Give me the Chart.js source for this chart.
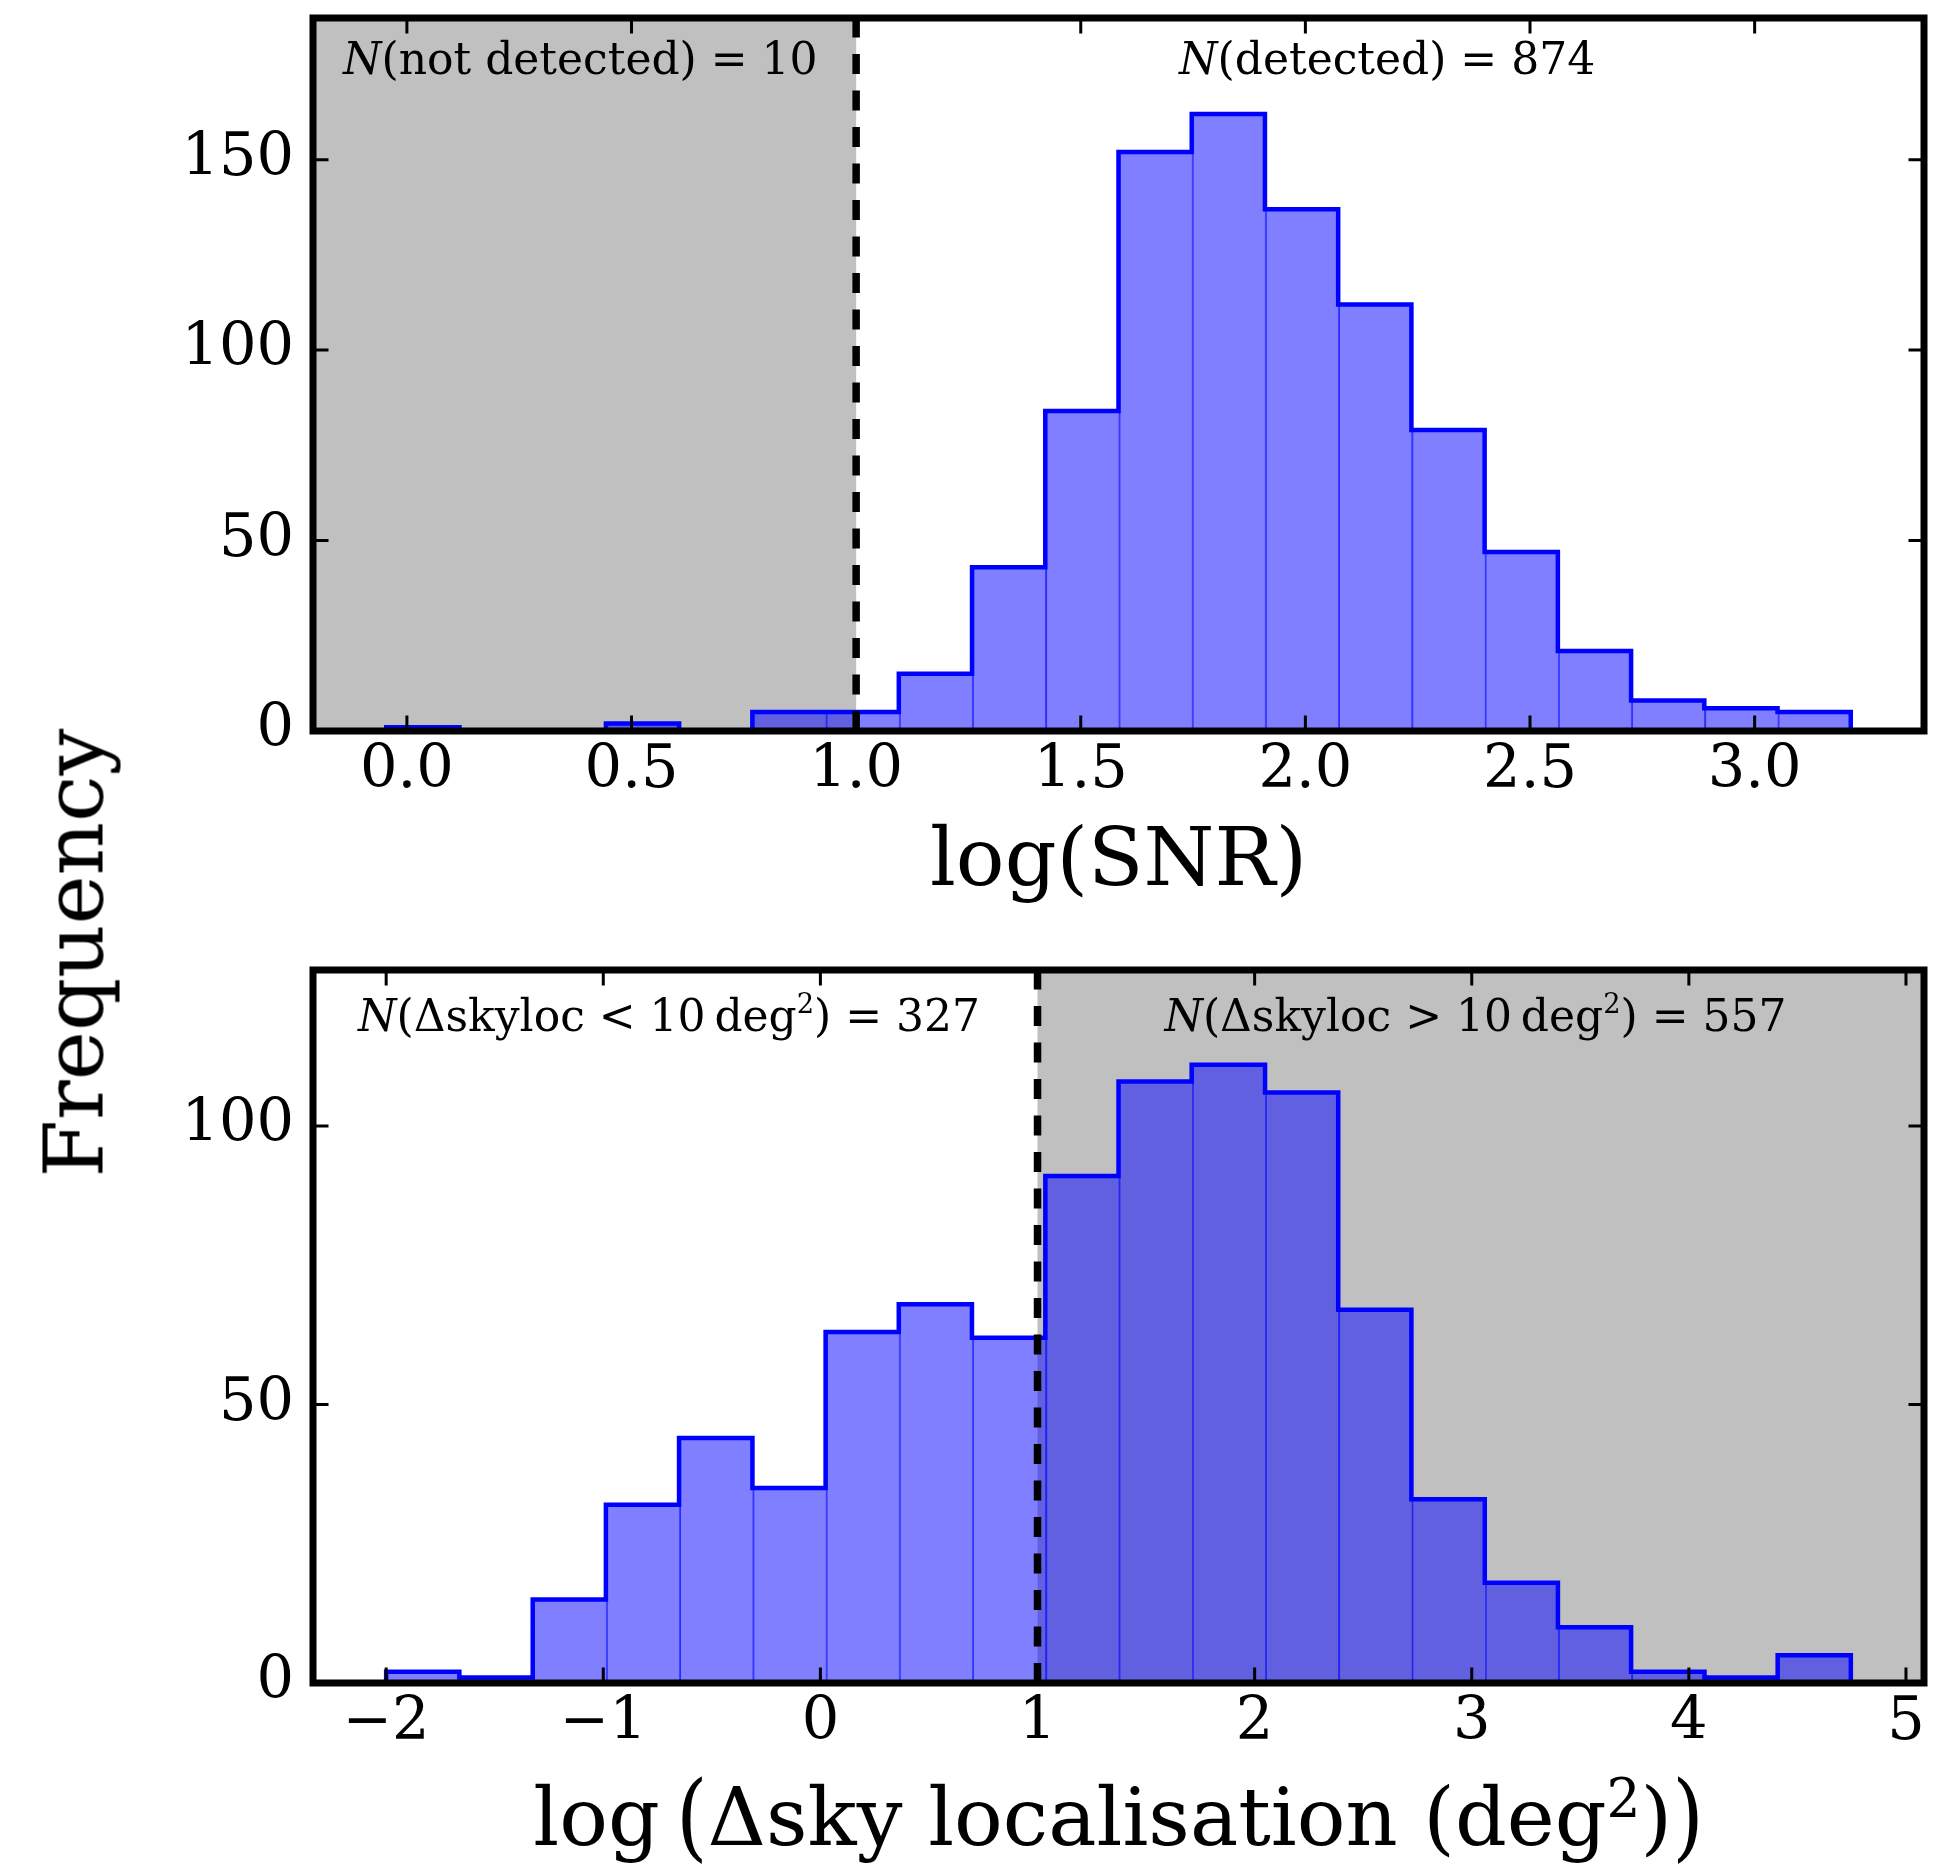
<!DOCTYPE html>
<html>
<head>
<meta charset="utf-8">
<script src="https://cdn.jsdelivr.net/npm/chart.js@4.4.1/dist/chart.umd.min.js"></script>
<style>
    body { margin: 0; background: #fff; }
    #wrap { position: relative; width: 1942px; height: 1864px; }
    canvas { position: absolute; left: 0; }
    #snrChart { top: 0; }
    #skyChart { top: 930px; }
    #freqLabel {
        position: absolute; left: 74px; top: 953px;
        font-family: 'DejaVu Serif'; font-size: 83px; line-height: 83px;
        white-space: nowrap; color: #000;
        transform: translate(-50%, -50%) rotate(-90deg);
    }
</style>
</head>
<body>
<div id="wrap">
    <canvas id="snrChart" width="1942" height="930"></canvas>
    <canvas id="skyChart" width="1942" height="934"></canvas>
    <div id="freqLabel">Frequency</div>
</div>
<script>
// top panel: log(SNR) histogram
const snrEdges = [-0.046, 0.117, 0.280, 0.443, 0.606, 0.769, 0.932, 1.095, 1.258, 1.421, 1.584,
    1.747, 1.910, 2.073, 2.236, 2.399, 2.562, 2.725, 2.888, 3.051, 3.214];
const snrCounts = [1, 0, 0, 2, 0, 5, 5, 15, 43, 84, 152, 162, 137, 112, 79, 47, 21, 8, 6, 5];
const snrXTicks = [0, 0.5, 1, 1.5, 2, 2.5, 3];
const snrYTicks = [0, 50, 100, 150];

// bottom panel: log(sky localisation) histogram
const skyEdges = [-2.000, -1.663, -1.325, -0.988, -0.651, -0.313, 0.024, 0.361, 0.698, 1.036, 1.373,
    1.710, 2.048, 2.385, 2.722, 3.060, 3.397, 3.734, 4.072, 4.409, 4.746];
const skyCounts = [2, 1, 15, 32, 44, 35, 63, 68, 62, 91, 108, 111, 106, 67, 33, 18, 10, 2, 1, 5];
const skyXTicks = [-2, -1, 0, 1, 2, 3, 4, 5];
const skyYTicks = [0, 50, 100];

const FONT = 'DejaVu Serif';
Chart.defaults.font.family = FONT;
Chart.defaults.color = '#000';

function drawRich(ctx, parts, cx, baseline, size) {
    let total = 0;
    const items = parts.map(p => {
        const font = `${p.italic ? 'italic ' : ''}${size * (p.scale || 1)}px "${FONT}"`;
        ctx.font = font;
        const w = ctx.measureText(p.t).width;
        total += w;
        return { p, font, w };
    });
    let x = cx - total / 2;
    ctx.textAlign = 'left';
    ctx.textBaseline = 'alphabetic';
    ctx.fillStyle = '#000';
    items.forEach(it => {
        const by = baseline - (it.p.rise || 0) * size;
        ctx.font = it.font;
        if (it.p.stretch) {
            // taller delimiters, same width
            ctx.save();
            ctx.translate(x, by);
            ctx.scale(1, it.p.stretch);
            ctx.fillText(it.p.t, 0, 0);
            ctx.restore();
        } else {
            ctx.fillText(it.p.t, x, by);
        }
        x += it.w;
    });
}

function panelPlugin(cfg) {
    return {
        id: 'panel',
        beforeDatasetsDraw(chart) {
            const { ctx, chartArea: a, scales: { x } } = chart;
            const cut = x.getPixelForValue(cfg.cut);
            ctx.save();
            ctx.fillStyle = '#c0c0c0';
            if (cfg.shade === 'left') ctx.fillRect(a.left, a.top, cut - a.left, a.bottom - a.top);
            else ctx.fillRect(cut, a.top, a.right - cut, a.bottom - a.top);
            ctx.restore();
        },
        afterDatasetsDraw(chart) {
            const { ctx, chartArea: a, scales: { x, y } } = chart;
            ctx.save();

            // threshold line
            const cut = x.getPixelForValue(cfg.cut);
            ctx.strokeStyle = '#000';
            ctx.lineWidth = 7.5;
            ctx.setLineDash([20, 16.5]);
            ctx.beginPath();
            ctx.moveTo(cut, a.bottom);
            ctx.lineTo(cut, a.top);
            ctx.stroke();
            ctx.setLineDash([]);

            // inward ticks on all sides
            const tl = 15.5;
            ctx.lineWidth = 3;
            ctx.beginPath();
            x.ticks.forEach(t => {
                const px = x.getPixelForValue(t.value);
                ctx.moveTo(px, a.bottom); ctx.lineTo(px, a.bottom - tl);
                ctx.moveTo(px, a.top); ctx.lineTo(px, a.top + tl);
            });
            y.ticks.forEach(t => {
                const py = y.getPixelForValue(t.value);
                ctx.moveTo(a.left, py); ctx.lineTo(a.left + tl, py);
                ctx.moveTo(a.right, py); ctx.lineTo(a.right - tl, py);
            });
            ctx.stroke();

            // frame
            ctx.lineWidth = 7;
            ctx.lineJoin = 'miter';
            ctx.strokeRect(a.left, a.top, a.right - a.left, a.bottom - a.top);

            cfg.notes.forEach(n => {
                drawRich(ctx, n.parts, x.getPixelForValue(n.x), y.getPixelForValue(n.y), 44);
            });

            drawRich(ctx, cfg.title, (a.left + a.right) / 2, a.bottom + cfg.titleOffset, 81);
            ctx.restore();
        }
    };
}

function histChart(canvasId, cfg) {
    const bins = cfg.counts.map((c, i) => ({ x: (cfg.edges[i] + cfg.edges[i + 1]) / 2, y: c }));
    const last = cfg.edges.length - 1;
    const outline = [{ x: cfg.edges[0], y: 0 }];
    cfg.counts.forEach((c, i) => outline.push({ x: cfg.edges[i], y: c }));
    outline.push({ x: cfg.edges[last], y: cfg.counts[cfg.counts.length - 1] });
    outline.push({ x: cfg.edges[last], y: 0 });

    return new Chart(document.getElementById(canvasId), {
        type: 'bar',
        data: {
            datasets: [
                {
                    type: 'line',
                    data: outline,
                    stepped: true,
                    borderColor: '#0000ff',
                    borderWidth: 4.5,
                    pointRadius: 0,
                    fill: false,
                    order: 0
                },
                {
                    data: bins,
                    backgroundColor: 'rgba(0, 0, 255, 0.5)',
                    borderColor: 'rgba(0, 0, 255, 0.75)',
                    borderWidth: { left: 1.5, right: 0, top: 0, bottom: 0 },
                    borderSkipped: false,
                    barPercentage: 1,
                    categoryPercentage: 1,
                    order: 1
                }
            ]
        },
        options: {
            responsive: false,
            animation: false,
            events: [],
            layout: { padding: { top: cfg.padTop, right: 18, bottom: 0, left: 0 } },
            plugins: { legend: { display: false }, tooltip: { enabled: false } },
            scales: {
                x: {
                    type: 'linear',
                    min: cfg.xMin,
                    max: cfg.xMax,
                    offset: false,
                    grid: { display: false, drawTicks: false },
                    border: { display: false },
                    afterBuildTicks: s => { s.ticks = cfg.xTicks.map(v => ({ value: v })); },
                    afterFit: s => { s.height = cfg.xAxisHeight; s.paddingLeft = 0; s.paddingRight = 0; },
                    ticks: {
                        font: { size: 59 }, color: '#000', padding: 5,
                        maxRotation: 0, autoSkip: false, callback: cfg.xFormat
                    }
                },
                y: {
                    min: 0,
                    max: cfg.yMax,
                    grid: { display: false, drawTicks: false },
                    border: { display: false },
                    afterBuildTicks: s => { s.ticks = cfg.yTicks.map(v => ({ value: v })); },
                    afterFit: s => { s.width = 313; s.paddingTop = 0; s.paddingBottom = 0; },
                    ticks: { font: { size: 59 }, color: '#000', padding: 19, callback: v => String(v) }
                }
            }
        },
        plugins: [panelPlugin(cfg)]
    });
}

histChart('snrChart', {
    edges: snrEdges, counts: snrCounts, xTicks: snrXTicks, yTicks: snrYTicks,
    xMin: -0.209, xMax: 3.377, yMax: 187.2,
    padTop: 18, xAxisHeight: 199,
    xFormat: v => v.toFixed(1),
    cut: 1, shade: 'left',
    notes: [
        { x: 0.386, y: 172.4, parts: [{ t: 'N', italic: true }, { t: '(not detected) = 10' }] },
        { x: 2.182, y: 172.4, parts: [{ t: 'N', italic: true }, { t: '(detected) = 874' }] }
    ],
    title: [{ t: 'log(SNR)' }],
    titleOffset: 154
});

histChart('skyChart', {
    edges: skyEdges, counts: skyCounts, xTicks: skyXTicks, yTicks: skyYTicks,
    xMin: -2.337, xMax: 5.083, yMax: 128,
    padTop: 40, xAxisHeight: 181,
    xFormat: v => (v < 0 ? '\u2212' + Math.abs(v) : String(v)),
    cut: 1, shade: 'right',
    notes: [
        { x: -0.697, y: 117, parts: [{ t: 'N', italic: true }, { t: '(\u0394skyloc < 10\u2009deg' },
            { t: '2', scale: 0.62, rise: 0.42 }, { t: ') = 327' }] },
        { x: 3.017, y: 117, parts: [{ t: 'N', italic: true }, { t: '(\u0394skyloc > 10\u2009deg' },
            { t: '2', scale: 0.62, rise: 0.42 }, { t: ') = 557' }] }
    ],
    title: [{ t: 'log\u2009' }, { t: '(', stretch: 1.18, rise: -0.05 }, { t: '\u0394sky localisation (deg' },
        { t: '2', scale: 0.66, rise: 0.34 }, { t: ')' }, { t: ')', stretch: 1.18, rise: -0.05 }],
    titleOffset: 162
});
</script>
</body>
</html>
